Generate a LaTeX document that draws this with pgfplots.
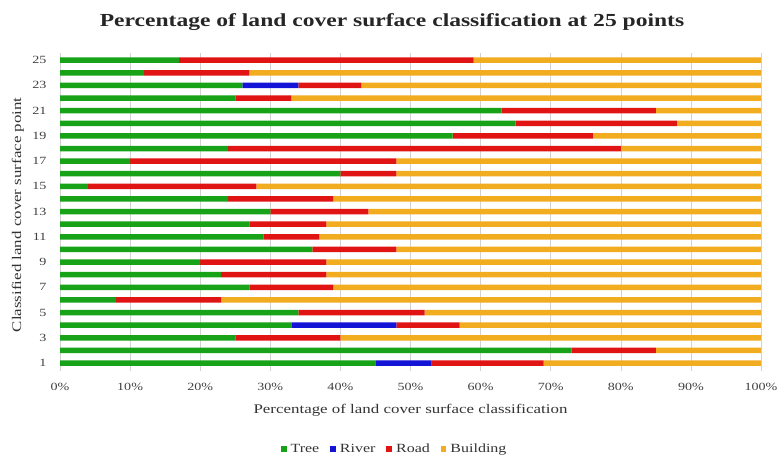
\documentclass[border=0pt]{standalone}
\usepackage{fontspec}
\setmainfont[FakeStretch=1.28]{Liberation Serif}
\usepackage{pgfplots}
\pgfplotsset{compat=1.18}
\definecolor{cTree}{RGB}{24,162,24}
\definecolor{cRiver}{RGB}{20,20,215}
\definecolor{cRoad}{RGB}{225,20,20}
\definecolor{cBuild}{RGB}{242,172,32}
\begin{document}
\begin{tikzpicture}[x=1pt,y=1pt]
\path[use as bounding box] (0,0) rectangle (784,458);
\begin{axis}[
  at={(60pt,87.4pt)}, anchor=south west,
  scale only axis, width=701pt, height=318pt,
  xbar stacked, bar width=5.5pt,
  xmin=0, xmax=100, ymin=0.4, ymax=25.6,
  xtick={0,10,...,100},
  xticklabel={\pgfmathprintnumber{\tick}\%},
  ytick={1,3,...,25},
  /pgf/number format/assume math mode=true,
  tick label style={font=\fontsize{11}{13}\selectfont, text=black!75},
  xticklabel style={anchor=center, yshift=-16.4pt},
  yticklabel style={anchor=east, xshift=-10pt},
  xmajorgrids, grid style={gray!35, line width=0.5pt},
  axis line style={draw=none},
  major tick style={draw=none},
  xlabel={Percentage of land cover surface classification},
  ylabel={Classified land cover surface point},
  label style={font=\fontsize{13.2}{15}\selectfont, text=black!80},
  xlabel style={at={(axis description cs:0.5,-0.124)}, anchor=center},
  ylabel style={at={(axis description cs:-0.06,0.49)}, anchor=center, rotate=0},
  legend columns=4,
  legend style={at={(0.4775,-0.247)}, anchor=center, draw=none, fill=none,
    font=\fontsize{12.5}{14}\selectfont, text=black!80,
    /tikz/every odd column/.append style={column sep=2pt},
    /tikz/every even column/.append style={column sep=9pt}},
  legend image code/.code={\fill[#1] (0pt,-2.8pt) rectangle (5.6pt,2.8pt);},
]
\addplot+[draw=none, fill=cTree] coordinates {
(45,1) (73,2) (25,3) (33,4) (34,5) (8,6) (27,7) (23,8) (20,9) (36,10)
(29,11) (27,12) (30,13) (24,14) (4,15) (40,16) (10,17) (24,18) (56,19) (65,20)
(63,21) (25,22) (26,23) (12,24) (17,25)};
\addplot+[draw=none, fill=cRiver] coordinates {
(8,1) (0,2) (0,3) (15,4) (0,5) (0,6) (0,7) (0,8) (0,9) (0,10)
(0,11) (0,12) (0,13) (0,14) (0,15) (0,16) (0,17) (0,18) (0,19) (0,20)
(0,21) (0,22) (8,23) (0,24) (0,25)};
\addplot+[draw=none, fill=cRoad] coordinates {
(16,1) (12,2) (15,3) (9,4) (18,5) (15,6) (12,7) (15,8) (18,9) (12,10)
(8,11) (11,12) (14,13) (15,14) (24,15) (8,16) (38,17) (56,18) (20,19) (23,20)
(22,21) (8,22) (9,23) (15,24) (42,25)};
\addplot+[draw=none, fill=cBuild] coordinates {
(31,1) (15,2) (60,3) (43,4) (48,5) (77,6) (61,7) (62,8) (62,9) (52,10)
(63,11) (62,12) (56,13) (61,14) (72,15) (52,16) (52,17) (20,18) (24,19) (12,20)
(15,21) (67,22) (57,23) (73,24) (41,25)};
\legend{Tree,River,Road,Building}
\end{axis}
\node[font=\bfseries\fontsize{18.4}{20}\selectfont, text=black!85] at (392,436) {Percentage of land cover surface classification at 25 points};
\end{tikzpicture}
\end{document}
